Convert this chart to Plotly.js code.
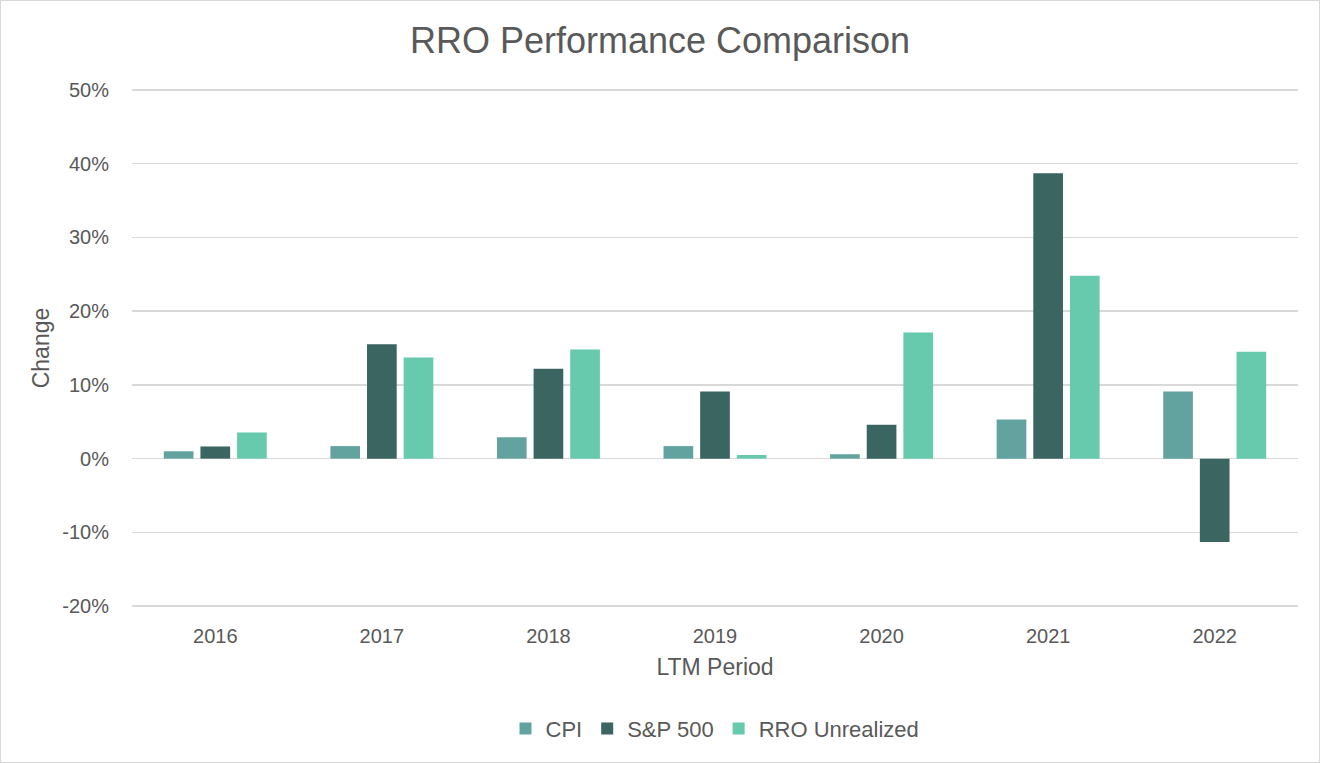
<!DOCTYPE html>
<html>
<head>
<meta charset="utf-8">
<script src="https://cdn.plot.ly/plotly-3.0.1.min.js"></script>
<style>
html,body{margin:0;padding:0;background:#fff;}
#chart{width:1318px;height:761px;border:1px solid #d9d9d9;}
</style>
</head>
<body>
<div id="chart"></div>
<script>
const categories = ["2016","2017","2018","2019","2020","2021","2022"];
const cpi = [1.0, 1.7, 2.9, 1.7, 0.6, 5.3, 9.1];
const sp500 = [1.65, 15.5, 12.2, 9.1, 4.6, 38.7, -11.3];
const rroUnrealized = [3.55, 13.7, 14.8, 0.5, 17.1, 24.8, 14.5];
const seriesNames = ["CPI","S&P 500","RRO Unrealized"];
const yTicks = [-20,-10,0,10,20,30,40,50];
const yTickLabels = ["-20%","-10%","0%","10%","20%","30%","40%","50%"];

const colors = ["#63a39f","#3a6561","#67caad"];
const allSeries = [cpi, sp500, rroUnrealized];
const font = "Liberation Sans, Arial, sans-serif";

const data = allSeries.map((vals,i)=>({
  type:'bar', x:categories, y:vals, name:seriesNames[i],
  marker:{color:colors[i]}, hoverinfo:'skip'
}));

const layout = {
  width:1318, height:761,
  margin:{l:131, r:21, t:87, b:151},
  paper_bgcolor:'#fff', plot_bgcolor:'#fff',
  font:{family:font, color:'#595959'},
  title:{text:'RRO Performance Comparison', x:0.5, xanchor:'center', y:0.948, yanchor:'middle',
         font:{size:36, color:'#595959', family:font}},
  barmode:'group', bargap:0.34, bargroupgap:0.19,
  showlegend:true,
  legend:{orientation:'h', x:0.5, xanchor:'center', y:-0.232, yanchor:'middle',
          font:{size:22, color:'#595959'}, itemwidth:30, traceorder:'normal'},
  xaxis:{type:'category', showgrid:false, zeroline:false, showline:false,
         ticks:'outside', ticklen:10, tickcolor:'rgba(0,0,0,0)',
         tickfont:{size:20, color:'#595959'},
         title:{text:'LTM Period', font:{size:23, color:'#595959'}, standoff:12}},
  yaxis:{range:[-20.25,50.25], tickvals:yTicks, ticktext:yTickLabels,
         showgrid:true, gridcolor:'#d9d9d9', gridwidth:1.5,
         zeroline:true, zerolinecolor:'#d9d9d9', zerolinewidth:1.5,
         showline:false, ticks:'outside', ticklen:18, tickcolor:'rgba(0,0,0,0)',
         tickfont:{size:20, color:'#595959'},
         title:{text:'Change', font:{size:23, color:'#595959'}, standoff:6}}
};

Plotly.newPlot('chart', data, layout, {displayModeBar:false, staticPlot:true});
</script>
</body>
</html>
